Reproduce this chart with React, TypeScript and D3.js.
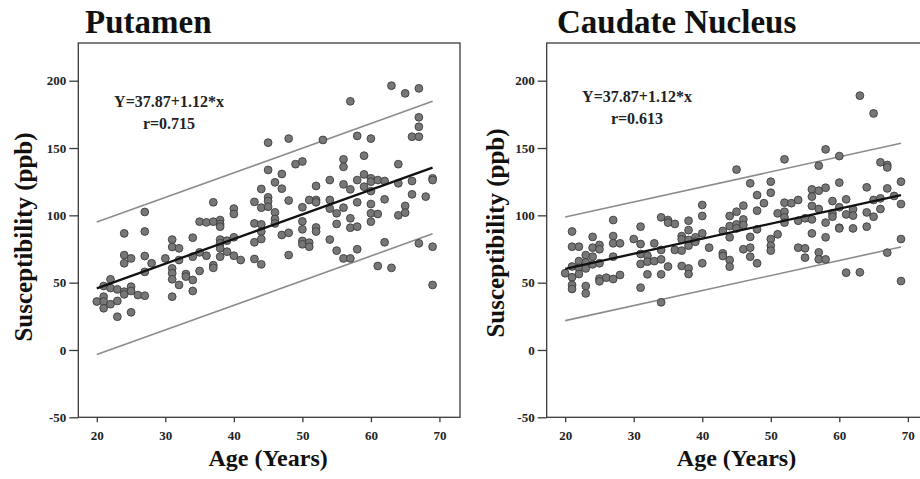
import { useEffect, useRef } from "react"
import * as d3 from "d3"

// ages / susceptibility (ppb)
const putamenAge = [
    20, 21, 21, 21, 21, 22, 22, 22, 23, 23, 23, 24, 24, 24, 24, 24, 25, 25, 25, 25, 26,
    27, 27, 27, 27, 27, 28, 30, 31, 31, 31, 31, 31, 31, 32, 32, 32, 33, 33, 34, 34, 34, 34,
    35, 35, 35, 36, 36, 37, 37, 37, 37, 38, 38, 38, 38, 38, 38, 38, 39, 39, 40, 40, 40, 40,
    41, 43, 43, 43, 43, 44, 44, 44, 44, 44, 44, 45, 45, 45, 45, 45, 46, 46, 46, 46, 47, 47,
    47, 48, 48, 48, 48, 49, 50, 50, 50, 50, 50, 50, 51, 51, 51, 52, 52, 52, 52, 52, 53, 54,
    54, 54, 54, 55, 55, 55, 56, 56, 56, 56, 56, 57, 57, 57, 57, 57, 58, 58, 58, 58, 58, 59,
    59, 59, 60, 60, 60, 60, 60, 60, 60, 61, 61, 61, 62, 62, 62, 63, 63, 64, 64, 64, 65, 65,
    65, 66, 66, 66, 67, 67, 67, 67, 67, 68, 69, 69, 69, 69,
]
const putamenVal = [
    36, 47.5, 39.6, 36, 31, 52.5, 46, 34, 45, 36.4, 24.7, 86.6, 70.5, 64.4, 43.3, 41.3, 68, 47, 43.8, 28, 40.8,
    102.5, 88, 69.8, 58, 40.3, 64.4, 68, 82, 76.5, 60.6, 57, 52.5, 39.6, 75.5, 66.8, 48.3, 56.4, 54.5, 83.4, 69.3, 52, 43.8,
    95.3, 72.5, 58.7, 94.8, 70, 109.7, 95.3, 63, 61, 96.5, 93.6, 91.6, 82, 79.2, 75.5, 69.3, 81.2, 73, 105, 101, 83.7, 70,
    66.8, 110, 94, 80, 67.6, 119.6, 105.7, 93.3, 88, 82.4, 63.6, 154, 133.7, 113.4, 110.6, 106.4, 124.5, 102.2, 97.3, 94, 130.7, 119.8,
    85.4, 157, 111, 87, 70.5, 138, 140, 106, 95.5, 89.6, 81, 78.5, 111.4, 79.7, 76.7, 121.8, 111.4, 109.7, 91, 88, 156, 126.2,
    111.4, 105, 82, 101.5, 93.6, 73.8, 141.6, 136, 123, 105.7, 68, 184.7, 119.3, 97.8, 90.8, 68, 159, 126.2, 109.7, 91.6, 74.8, 144.3,
    130.4, 121.3, 157, 127.5, 125, 118, 108.4, 101.5, 95.3, 126.2, 101, 62.4, 125.5, 111.9, 80, 196.3, 61, 138, 123.8, 100, 190.6, 107,
    102, 158.4, 125.5, 115.6, 194.3, 172.8, 165.8, 158.4, 79.2, 113.9, 127.5, 126.2, 76.7, 48.3,
]

const caudateAge = [
    20, 21, 21, 21, 21, 21, 21, 22, 22, 22, 22, 23, 23, 23, 23, 23, 24, 24, 24, 24, 25, 25, 25,
    25, 25, 26, 27, 27, 27, 27, 27, 28, 28, 30, 31, 31, 31, 31, 31, 32, 32, 32, 33, 33, 34, 34,
    34, 34, 34, 35, 35, 35, 36, 36, 37, 37, 37, 37, 38, 38, 38, 38, 38, 38, 39, 39, 40, 40, 40,
    40, 41, 43, 43, 43, 44, 44, 44, 44, 44, 45, 45, 45, 45, 46, 46, 46, 46, 47, 47, 47, 47, 48,
    48, 48, 48, 49, 50, 50, 50, 50, 50, 51, 51, 52, 52, 52, 52, 52, 53, 54, 54, 54, 55, 55, 55,
    56, 56, 56, 56, 56, 57, 57, 57, 57, 57, 58, 58, 58, 58, 58, 59, 59, 59, 60, 60, 60, 60, 60,
    61, 61, 61, 62, 62, 62, 63, 63, 64, 64, 64, 65, 65, 65, 66, 66, 66, 67, 67, 67, 67, 68, 69,
    69, 69, 69,
]
const caudateVal = [
    57, 88, 76.7, 62, 54, 48.3, 45.3, 76.7, 66, 61, 56.4, 70.5, 65, 60.6, 47.5, 42, 84, 76, 69.3, 63.6, 78, 74.8, 64.4,
    53, 51, 53.7, 96.5, 84.6, 79.2, 69.3, 52.7, 79.2, 55.7, 82.4, 91.6, 78.7, 71.3, 63.9, 46.3, 70, 65.6, 56.2, 79.2, 66, 98.5, 74.3,
    67.3, 56.2, 35.4, 96.5, 94.6, 62, 93.6, 74.3, 84.6, 82.2, 73.8, 62.4, 96, 89, 81.7, 77.5, 60.6, 56.4, 83.7, 80.4, 107.7, 99.5, 86.6,
    64.4, 76, 88.4, 71.8, 69.8, 99.5, 92, 83.7, 66.8, 61.9, 134, 102.7, 93.3, 90.3, 107.2, 97, 92.8, 74.8, 123.8, 84, 76, 69.3, 115,
    103.5, 89.6, 64.4, 109, 125, 116.8, 82.4, 77.5, 73.8, 101.5, 85.9, 141.6, 109.4, 102.7, 98.5, 94.6, 109, 111.4, 96, 76, 97.8, 75.5, 68.6,
    119.3, 113.9, 107, 97, 86.6, 136.9, 118.3, 104.7, 72.5, 67.3, 149, 120.5, 94.6, 83.7, 67.3, 110.6, 101.5, 99, 144, 124.3, 106, 90.8, 90.3,
    111.9, 100.7, 57.4, 104.5, 99.8, 90.3, 188.9, 57.7, 120.8, 102.2, 91.6, 175.7, 111.4, 99, 139.4, 112.6, 104.7, 137.4, 135.6, 120, 72.3, 114.4, 125,
    108.4, 82.4, 51.2,
]

// fit line (intercept, slope) and half-width of the grey band, as drawn
const fitIntercept = [9.2, 38.0]
const fitSlope = [1.83, 1.116]
const bandHalf = [49.2, 38.5]
const fitAgeRange = [20, 69]

const titles = ["Putamen", "Caudate Nucleus"]
const equations = ["Y=37.87+1.12*x", "Y=37.87+1.12*x"]
const rValues = ["r=0.715", "r=0.613"]

const xTicks = [20, 30, 40, 50, 60, 70]
const yTicks = [-50, 0, 50, 100, 150, 200]

const W = 920
const H = 479
const serif = "'Liberation Serif', 'Times New Roman', serif"

export default function App() {
    const svgRef = useRef<SVGSVGElement>(null)

    useEffect(() => {
        const svg = d3.select(svgRef.current)
        svg.selectAll("*").remove()

        const panels = [
            { left: 78.3, ages: putamenAge, vals: putamenVal, titleX: 85, labelX: 32, labelY: 237, eqX: 169, eqY: 107 },
            { left: 546.7, ages: caudateAge, vals: caudateVal, titleX: 557, labelX: 504, labelY: 233, eqX: 637, eqY: 102 },
        ]
        const top = 43
        const bottom = 417.3
        const plotW = 381.7

        panels.forEach((p, i) => {
            const x = d3.scaleLinear().domain([17.3, 73]).range([p.left, p.left + plotW])
            const y = d3.scaleLinear().domain([-50, 228]).range([bottom, top])
            const g = svg.append("g")

            // frame
            g.append("rect")
                .attr("x", p.left).attr("y", top)
                .attr("width", plotW).attr("height", bottom - top)
                .attr("fill", "none").attr("stroke", "#3a3a3a").attr("stroke-width", 1.3)

            const yAxis = g.append("g")
                .attr("transform", `translate(${p.left},0)`)
                .call(d3.axisLeft(y).tickValues(yTicks).tickSize(9).tickPadding(3).tickFormat(d => String(d)))
            const xAxis = g.append("g")
                .attr("transform", `translate(0,${bottom})`)
                .call(d3.axisBottom(x).tickValues(xTicks).tickSize(5).tickPadding(8).tickFormat(d => String(d)))
            ;[yAxis, xAxis].forEach(a => {
                a.select(".domain").remove()
                a.selectAll("line").attr("stroke", "#3a3a3a").attr("stroke-width", 1.3)
                a.selectAll("text")
                    .attr("font-family", serif).attr("font-weight", "bold")
                    .attr("font-size", 13).attr("fill", "#222")
            })

            // band lines and fit
            const lineFor = (off: number) => d3.line<number>()
                .x(a => x(a))
                .y(a => y(fitIntercept[i] + fitSlope[i] * a + off))(fitAgeRange)
            g.append("path").attr("d", lineFor(bandHalf[i])).attr("stroke", "#8c8c8c").attr("stroke-width", 1.6).attr("fill", "none")
            g.append("path").attr("d", lineFor(-bandHalf[i])).attr("stroke", "#8c8c8c").attr("stroke-width", 1.6).attr("fill", "none")

            g.append("g").selectAll("circle")
                .data(p.ages.map((a, k) => [a, p.vals[k]]))
                .join("circle")
                .attr("cx", d => x(d[0]))
                .attr("cy", d => y(d[1]))
                .attr("r", 3.9)
                .attr("fill", "#777")
                .attr("stroke", "#3d3d3d")
                .attr("stroke-width", 0.9)

            g.append("path").attr("d", lineFor(0)).attr("stroke", "#111").attr("stroke-width", 2.3).attr("fill", "none")

            // texts
            g.append("text").text(titles[i])
                .attr("x", p.titleX).attr("y", 33)
                .attr("font-family", serif).attr("font-weight", "bold").attr("font-size", 33).attr("fill", "#111")
            g.append("text").text(equations[i])
                .attr("x", p.eqX).attr("y", p.eqY).attr("text-anchor", "middle")
                .attr("font-family", serif).attr("font-weight", "bold").attr("font-size", 16).attr("fill", "#222")
            g.append("text").text(rValues[i])
                .attr("x", p.eqX).attr("y", p.eqY + 22).attr("text-anchor", "middle")
                .attr("font-family", serif).attr("font-weight", "bold").attr("font-size", 16).attr("fill", "#222")
            g.append("text").text("Susceptibility (ppb)")
                .attr("transform", `translate(${p.labelX},${p.labelY}) rotate(-90)`)
                .attr("text-anchor", "middle")
                .attr("font-family", serif).attr("font-weight", "bold").attr("font-size", 25).attr("fill", "#111")
            g.append("text").text("Age (Years)")
                .attr("x", (x(70) + x(20)) / 2).attr("y", 466)
                .attr("text-anchor", "middle")
                .attr("font-family", serif).attr("font-weight", "bold").attr("font-size", 24).attr("fill", "#111")
        })
    }, [])

    return (
        <svg ref={svgRef} width={W} height={H} viewBox={`0 0 ${W} ${H}`}
            style={{ position: "absolute", left: 0, top: 0, background: "#fff" }} />
    )
}
